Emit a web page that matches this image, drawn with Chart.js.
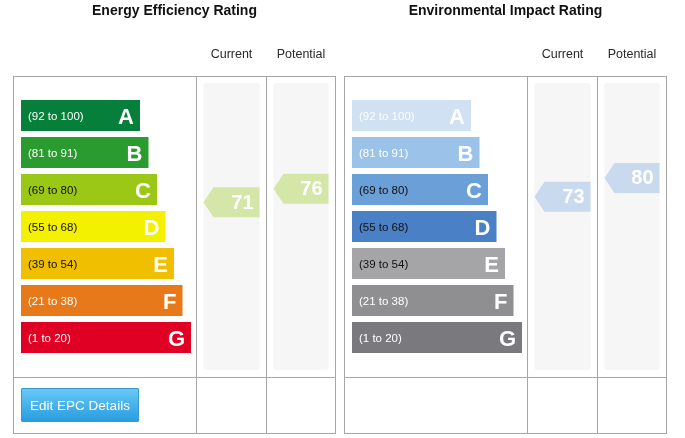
<!DOCTYPE html>
<html>
<head>
<meta charset="utf-8">
<script src="https://cdn.jsdelivr.net/npm/chart.js@4/dist/chart.umd.min.js"></script>
<style>
  html, body { margin: 0; padding: 0; background: #fff; }
  body { width: 685px; height: 438px; position: relative; overflow: hidden; }
  .panel { position: absolute; top: 0; width: 340px; height: 438px; }
  #epc-btn {
    position: absolute; left: 21px; top: 388px; width: 118px; height: 34px;
    border: 1px solid #3b98cf; border-radius: 1px;
    background: linear-gradient(#66c8f6, #2a9de0);
    color: #fff; font: 13.5px "Liberation Sans", Arial, sans-serif;
    padding: 0; z-index: 5;
  }
</style>
</head>
<body>
<div class="panel" style="left:0"><canvas id="energy"></canvas></div>
<div class="panel" style="left:331px"><canvas id="impact"></canvas></div>
<button id="epc-btn">Edit EPC Details</button>
<script>
// bands, top (best) to bottom (worst)
var bandLetters = ['A', 'B', 'C', 'D', 'E', 'F', 'G'];
var bandRanges = ['(92 to 100)', '(81 to 91)', '(69 to 80)', '(55 to 68)', '(39 to 54)', '(21 to 38)', '(1 to 20)'];
var bandRank = [1, 2, 3, 4, 5, 6, 7];

// rating columns
var ratingColumns = ['Current', 'Potential'];
var energyRatings = [71, 76];
var impactRatings = [73, 80];

//colors
var energyColors = ['#067f3a', '#2a9b2f', '#9bc816', '#f3f000', '#f0c000', '#e8791a', '#df0024'];
var impactColors = ['#cfe1f3', '#9bc2e8', '#6b9fd8', '#4a80c6', '#a5a5a8', '#8f8f92', '#7a7a7e'];
var energyLabelInk = ['#fff', '#fff', '#111', '#111', '#111', '#fff', '#fff'];
var impactLabelInk = ['#fff', '#fff', '#111', '#111', '#111', '#fff', '#fff'];

var FONT = '"Liberation Sans", Arial, sans-serif';
var colX = [[196.5, 266.5], [266.5, 335.5]];

var epcPlugin = {
    id: 'epc',
    beforeDatasetsDraw: function(chart) {
        var ctx = chart.ctx;
        var o = chart.options.plugins.epc;
        ctx.save();
        // title
        ctx.fillStyle = '#111';
        ctx.font = 'bold 14px ' + FONT;
        ctx.textAlign = 'center';
        ctx.textBaseline = 'middle';
        ctx.fillText(o.title, 174.5, 11);
        // column headers
        ctx.font = '12.5px ' + FONT;
        ctx.fillStyle = '#2a2a2a';
        for (var i = 0; i < ratingColumns.length; i++) {
            ctx.fillText(ratingColumns[i], (colX[i][0] + colX[i][1]) / 2, 55);
        }
        // grey columns
        ctx.fillStyle = '#f6f6f6';
        for (var i = 0; i < colX.length; i++) {
            ctx.beginPath();
            ctx.roundRect(colX[i][0] + 7, 83, colX[i][1] - colX[i][0] - 14, 287, 3);
            ctx.fill();
        }
        // table lines
        ctx.strokeStyle = '#a6a6a6';
        ctx.lineWidth = 1;
        ctx.strokeRect(13.5, 76.5, 322, 357);
        ctx.beginPath();
        ctx.moveTo(13.5, 377.5); ctx.lineTo(335.5, 377.5);
        ctx.moveTo(196.5, 76.5); ctx.lineTo(196.5, 433.5);
        ctx.moveTo(266.5, 76.5); ctx.lineTo(266.5, 433.5);
        ctx.stroke();
        ctx.restore();
    },
    afterDatasetsDraw: function(chart) {
        var ctx = chart.ctx;
        var o = chart.options.plugins.epc;
        var meta = chart.getDatasetMeta(0);
        ctx.save();
        ctx.textBaseline = 'middle';
        meta.data.forEach(function(bar, i) {
            ctx.font = '11.5px ' + FONT;
            ctx.textAlign = 'left';
            ctx.fillStyle = o.labelInk[i];
            ctx.fillText(bandRanges[i], bar.base + 7, bar.y + 1);
            ctx.font = 'bold 22px ' + FONT;
            ctx.textAlign = 'right';
            ctx.fillStyle = '#fff';
            ctx.fillText(bandLetters[i], bar.x - 6, bar.y + 2);
        });
        // rating arrows
        var score = chart.scales.score;
        for (var i = 0; i < o.ratings.length; i++) {
            var y = score.getPixelForValue(o.ratings[i]);
            var left = colX[i][0] + 7, right = colX[i][1] - 7;
            ctx.fillStyle = o.arrowColor;
            ctx.beginPath();
            ctx.moveTo(left, y);
            ctx.lineTo(left + 10, y - 15);
            ctx.lineTo(right, y - 15);
            ctx.lineTo(right, y + 15);
            ctx.lineTo(left + 10, y + 15);
            ctx.closePath();
            ctx.fill();
            ctx.fillStyle = '#fff';
            ctx.font = 'bold 20px ' + FONT;
            ctx.textAlign = 'right';
            ctx.fillText(o.ratings[i], right - 6, y + 1);
        }
        ctx.restore();
    }
};

function makeChart(id, title, colors, labelInk, ratings, arrowColor) {
    return new Chart(document.getElementById(id), {
        type: 'bar',
        data: {
            labels: bandLetters,
            datasets: [{
                data: bandRank,
                base: -13,
                backgroundColor: colors,
                barPercentage: 31 / 37,
                categoryPercentage: 1
            }]
        },
        options: {
            indexAxis: 'y',
            responsive: false,
            animation: false,
            events: [],
            layout: { padding: { left: 21, right: 149, top: 97, bottom: 82 } },
            scales: {
                x: { type: 'linear', min: -13, max: 7, display: false },
                y: { type: 'category', display: false },
                score: { type: 'linear', axis: 'y', min: 18.8, max: 105.2, display: false }
            },
            plugins: {
                legend: { display: false },
                tooltip: { enabled: false },
                epc: { title: title, labelInk: labelInk, ratings: ratings, arrowColor: arrowColor }
            }
        },
        plugins: [epcPlugin]
    });
}

document.getElementById('energy').width = 340;
document.getElementById('energy').height = 438;
document.getElementById('impact').width = 340;
document.getElementById('impact').height = 438;

makeChart('energy', 'Energy Efficiency Rating', energyColors, energyLabelInk, energyRatings, '#d5e6a9');
makeChart('impact', 'Environmental Impact Rating', impactColors, impactLabelInk, impactRatings, '#c9daee');
</script>
</body>
</html>
